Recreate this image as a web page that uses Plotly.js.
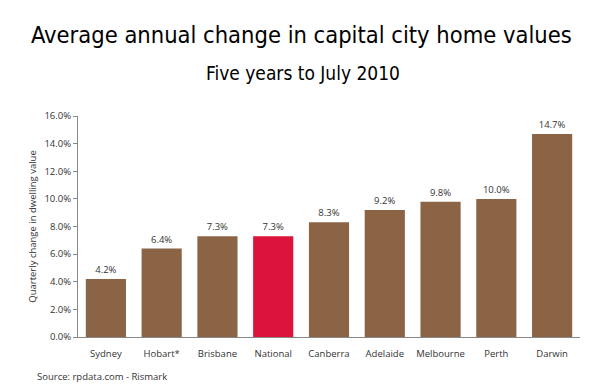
<!DOCTYPE html>
<html><head><meta charset="utf-8">
<script src="https://cdn.plot.ly/plotly-3.0.1.min.js"></script>
<style>html,body{margin:0;padding:0;background:#fff}#c{width:595px;height:386px}</style>
</head><body><div id="c"></div>
<script>
const cities = ["Sydney","Hobart*","Brisbane","National","Canberra","Adelaide","Melbourne","Perth","Darwin"];
const values = [4.2,6.4,7.3,7.3,8.3,9.2,9.8,10.0,14.7];
const valueLabels = ["4.2%","6.4%","7.3%","7.3%","8.3%","9.2%","9.8%","10.0%","14.7%"];
const tickVals = [0,2,4,6,8,10,12,14,16];
const tickText = ["0.0%","2.0%","4.0%","6.0%","8.0%","10.0%","12.0%","14.0%","16.0%"];
const brown = "#8B6446", red = "#DC143C";
const colors = cities.map(c => c === "National" ? red : brown);
const font = "Open Sans, Liberation Sans, sans-serif";
const narrow = "DejaVu Sans Condensed, sans-serif";
// paper coords: plot area x 78..580, y 116..337
const px = x => (x - 78) / 502, py = y => (337 - y) / 221;
Plotly.newPlot("c", [{
  type: "bar", x: cities, y: values, marker: {color: colors},
  text: valueLabels, textposition: "outside", cliponaxis: false,
  textfont: {family: font, size: 9.5, color: "#333"}, hoverinfo: "none"
}], {
  width: 595, height: 386,
  margin: {l: 78, r: 15, t: 116, b: 49},
  paper_bgcolor: "#fff", plot_bgcolor: "#fff",
  bargap: 0.28, showlegend: false,
  xaxis: {type: "category", range: [-0.5, 8.5], showline: true, linecolor: "#888", linewidth: 1,
    ticks: "outside", ticklen: 8, tickcolor: "rgba(0,0,0,0)", tickfont: {family: font, size: 9.5, color: "#333"},
    showgrid: false, fixedrange: true},
  yaxis: {range: [0, 16], tickvals: tickVals, ticktext: tickText, showline: true, linecolor: "#888", linewidth: 1,
    ticks: "outside", ticklen: 4, tickcolor: "#888", showgrid: false, zeroline: false,
    tickfont: {family: font, size: 9.5, color: "#333"},
    title: {text: "Quarterly change in dwelling value", font: {family: font, size: 9.5, color: "#333"}, standoff: 6}},
  annotations: [
    {text: "Average annual change in capital city home values", xref: "paper", yref: "paper",
     x: px(301), xanchor: "center", y: py(35), yanchor: "middle", showarrow: false,
     font: {family: narrow, size: 23.5, color: "#000"}},
    {text: "Five years to July 2010", xref: "paper", yref: "paper",
     x: px(303), xanchor: "center", y: py(73), yanchor: "middle", showarrow: false,
     font: {family: narrow, size: 19, color: "#000"}},
    {text: "Source: rpdata.com - Rismark", xref: "paper", yref: "paper",
     x: px(35), xanchor: "left", y: py(376), yanchor: "middle", showarrow: false,
     font: {family: font, size: 9.5, color: "#333"}}
  ]
}, {staticPlot: true});
</script></body></html>
